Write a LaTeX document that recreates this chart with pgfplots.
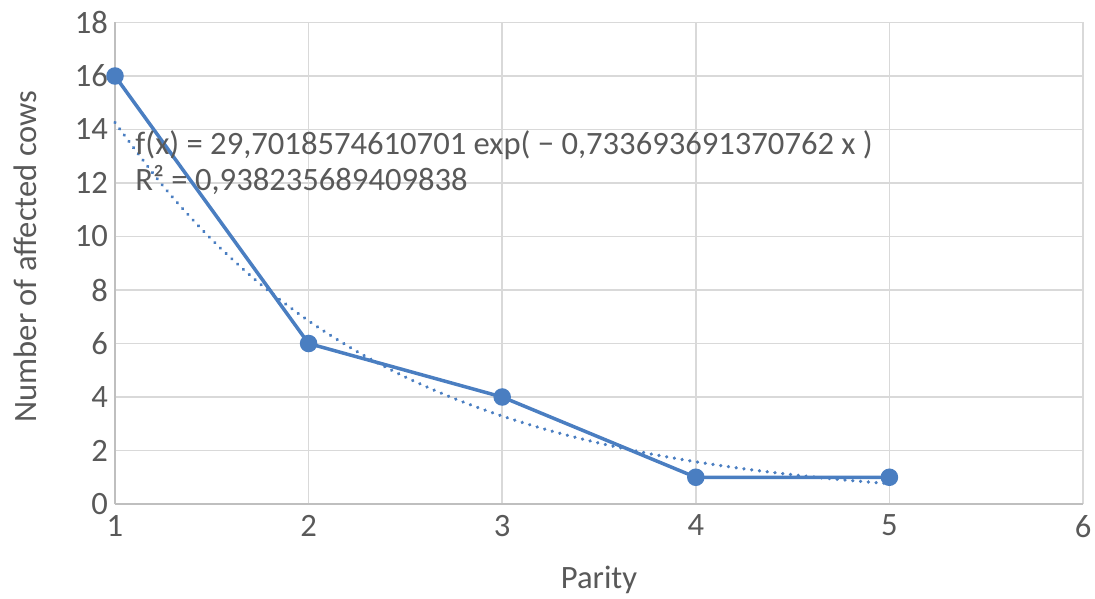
\documentclass[border=0pt]{standalone}
\usepackage{pgfplots}
\pgfplotsset{compat=1.18}
\usepackage{fontspec}
\setmainfont{Carlito}
\definecolor{lineblue}{RGB}{74,126,193}
\definecolor{txtgray}{RGB}{89,89,89}
\definecolor{gridgray}{RGB}{217,217,217}
\definecolor{axgray}{RGB}{191,191,191}
\begin{document}
\begin{tikzpicture}
\begin{axis}[
  name=ax,
  scale only axis,
  width=484bp, height=240.75bp,
  xmin=1, xmax=6, ymin=0, ymax=18,
  xtick={1,2,3,4,5,6}, ytick={0,2,4,6,8,10,12,14,16,18},
  /pgf/number format/assume math mode=true,
  font=\fontsize{16.3bp}{19bp}\selectfont,
  tick label style={text=txtgray},
  ticklabel style={font=\fontsize{16.3bp}{19bp}\selectfont},
  xticklabel style={yshift=-2bp},
  grid=major,
  major grid style={gridgray, line width=0.8bp},
  axis x line*=bottom, axis y line*=left,
  axis line style={axgray, line width=1bp},
  tick style={draw=none},
  xlabel={Parity}, ylabel={Number of affected cows},
  label style={text=txtgray},
  xlabel style={at={(axis description cs:0.5,-0.158)}, anchor=center},
  ylabel style={at={(axis description cs:-0.093,0.514)}, anchor=center, rotate=0},
  clip=false,
]
\addplot[lineblue, line width=1.75bp, mark=*, mark size=3.5bp, mark options={fill=lineblue, draw=lineblue}] coordinates {
  (1,16) (2,6) (3,4) (4,1) (5,1)
};
\addplot[lineblue, line width=1.8bp, dash pattern=on 0.01bp off 3.9bp, smooth, line cap=round] coordinates {
  (1,14.261) (1.25,11.871) (1.5,9.882) (1.75,8.226) (2,6.847) (2.25,5.700) (2.5,4.744) (2.75,3.949)
  (3,3.287) (3.25,2.736) (3.5,2.278) (3.75,1.896) (4,1.578) (4.25,1.314) (4.5,1.094) (4.75,0.910) (5,0.758)
};
\node[anchor=west, text=txtgray, inner sep=0pt] at (axis description cs:0.0207,0.7456) {f(x) = 29,7018574610701 exp( − 0,733693691370762 x )};
\node[anchor=west, text=txtgray, inner sep=0pt] at (axis description cs:0.0207,0.673) {R² = 0,938235689409838};
\end{axis}
\pgfresetboundingbox
\path ([xshift=-57.5bp, yshift=-47bp]ax.south west) rectangle ([xshift=6bp, yshift=11.25bp]ax.north east);
\end{tikzpicture}
\end{document}
